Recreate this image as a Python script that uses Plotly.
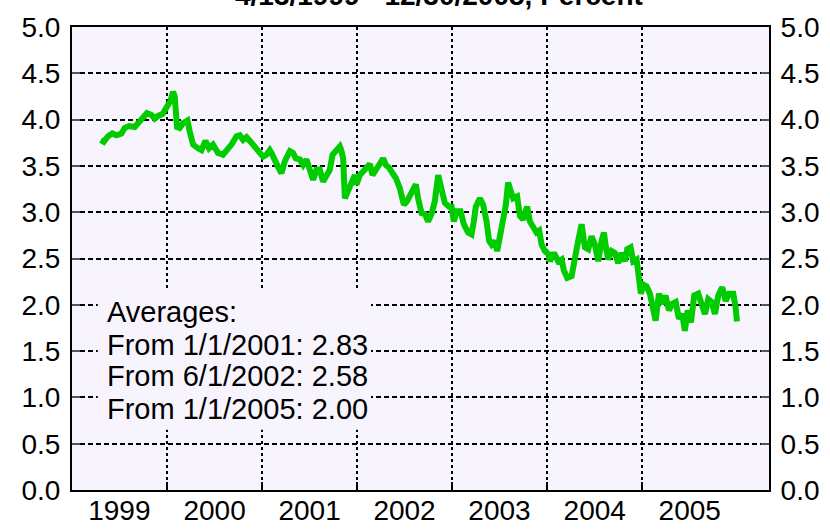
import plotly.graph_objects as go
from datetime import datetime, timedelta

obs_years = [
    1999.302, 1999.334, 1999.379, 1999.425, 1999.467, 1999.520, 1999.555, 1999.600,
    1999.660, 1999.713, 1999.765, 1999.789, 1999.836, 1999.871, 1999.905, 1999.952,
    2000.000, 2000.039, 2000.063, 2000.081, 2000.105, 2000.134, 2000.168, 2000.215,
    2000.239, 2000.274, 2000.326, 2000.362, 2000.404, 2000.442, 2000.484, 2000.537,
    2000.589, 2000.625, 2000.678, 2000.731, 2000.765, 2000.800, 2000.836, 2000.888,
    2000.941, 2000.976, 2001.011, 2001.046, 2001.081, 2001.099, 2001.134, 2001.168,
    2001.204, 2001.239, 2001.292, 2001.326, 2001.355, 2001.397, 2001.432, 2001.467,
    2001.502, 2001.537, 2001.573, 2001.607, 2001.642, 2001.678, 2001.713, 2001.741,
    2001.783, 2001.818, 2001.836, 2001.853, 2001.871, 2001.905, 2001.941, 2001.976,
    2001.994, 2002.028, 2002.063, 2002.099, 2002.134, 2002.162, 2002.204, 2002.239,
    2002.274, 2002.302, 2002.337, 2002.373, 2002.407, 2002.449, 2002.492, 2002.526,
    2002.573, 2002.618, 2002.642, 2002.678, 2002.713, 2002.747, 2002.783, 2002.818,
    2002.853, 2002.881, 2002.923, 2002.968, 2002.994, 2003.018, 2003.046, 2003.088,
    2003.123, 2003.168, 2003.204, 2003.228, 2003.249, 2003.292, 2003.326, 2003.362,
    2003.389, 2003.415, 2003.449, 2003.474, 2003.502, 2003.537, 2003.565, 2003.589,
    2003.615, 2003.642, 2003.684, 2003.713, 2003.747, 2003.789, 2003.818, 2003.853,
    2003.888, 2003.916, 2003.941, 2003.976, 2004.011, 2004.028, 2004.071, 2004.116,
    2004.152, 2004.176, 2004.211, 2004.257, 2004.292, 2004.326, 2004.362, 2004.397,
    2004.432, 2004.467, 2004.502, 2004.537, 2004.573, 2004.597, 2004.618, 2004.642,
    2004.678, 2004.713, 2004.747, 2004.783, 2004.818, 2004.842, 2004.878, 2004.905,
    2004.941, 2004.986, 2005.011, 2005.046, 2005.081, 2005.116, 2005.141, 2005.176,
    2005.211, 2005.246, 2005.281, 2005.316, 2005.352, 2005.386, 2005.421, 2005.449,
    2005.478, 2005.513, 2005.547, 2005.589, 2005.625, 2005.660, 2005.695, 2005.731,
    2005.765, 2005.800, 2005.842, 2005.878, 2005.913, 2005.958, 2005.983, 2005.997,
]

rate_pct = [
    3.78, 3.76, 3.82, 3.85, 3.83, 3.85, 3.91, 3.93,
    3.92, 3.98, 4.03, 4.07, 4.05, 4.01, 4.04, 4.06,
    4.14, 4.21, 4.30, 4.25, 3.92, 3.91, 3.96, 3.99,
    3.87, 3.73, 3.69, 3.67, 3.77, 3.69, 3.73, 3.64,
    3.62, 3.66, 3.73, 3.82, 3.83, 3.78, 3.81, 3.75,
    3.69, 3.66, 3.60, 3.62, 3.67, 3.64, 3.55, 3.49,
    3.42, 3.55, 3.66, 3.64, 3.58, 3.57, 3.51, 3.57,
    3.46, 3.35, 3.46, 3.46, 3.33, 3.41, 3.46, 3.62,
    3.67, 3.71, 3.66, 3.58, 3.15, 3.23, 3.33, 3.40,
    3.30, 3.40, 3.44, 3.49, 3.52, 3.40, 3.48, 3.53,
    3.58, 3.51, 3.48, 3.42, 3.37, 3.26, 3.08, 3.12,
    3.21, 3.30, 3.15, 2.99, 2.98, 2.90, 2.98, 3.12,
    3.40, 3.26, 3.10, 3.06, 3.06, 2.90, 3.01, 3.01,
    2.87, 2.78, 2.76, 2.90, 3.06, 3.15, 3.08, 2.90,
    2.69, 2.65, 2.69, 2.58, 2.72, 2.92, 3.08, 3.32,
    3.23, 3.15, 3.17, 2.96, 2.92, 3.06, 2.90, 2.83,
    2.78, 2.80, 2.65, 2.58, 2.55, 2.47, 2.56, 2.47,
    2.49, 2.37, 2.29, 2.31, 2.53, 2.69, 2.87, 2.62,
    2.60, 2.74, 2.65, 2.47, 2.69, 2.78, 2.62, 2.49,
    2.58, 2.56, 2.45, 2.56, 2.47, 2.60, 2.62, 2.47,
    2.49, 2.12, 2.22, 2.20, 2.12, 1.97, 1.83, 2.12,
    2.01, 2.10, 1.94, 2.01, 2.03, 1.85, 1.90, 1.72,
    1.94, 1.81, 2.10, 2.12, 1.99, 1.90, 2.06, 2.03,
    1.90, 2.10, 2.19, 2.04, 2.12, 2.12, 1.97, 1.82,
]

year_labels = ["1999", "2000", "2001", "2002", "2003", "2004", "2005"]
year_boundaries = ["2000-01-01", "2001-01-01", "2002-01-01", "2003-01-01",
                   "2004-01-01", "2005-01-01"]
y_ticks = [0.0, 0.5, 1.0, 1.5, 2.0, 2.5, 3.0, 3.5, 4.0, 4.5, 5.0]
note_lines = ["Averages:", "From 1/1/2001: 2.83", "From 6/1/2002: 2.58",
              "From 1/1/2005: 2.00"]
title_text = "4/13/1999 - 12/30/2005, Percent"


def to_date(t):
    return datetime(1999, 1, 1) + timedelta(days=(t - 1999) * 365.25)


dates = [to_date(t) for t in obs_years]
label_pos = [datetime(int(y), 7, 2) for y in year_labels]

FONT = "Liberation Sans, Arial, sans-serif"
BG = "#F8F4FE"

fig = go.Figure()
fig.add_trace(go.Scatter(x=dates, y=rate_pct, mode="lines",
                         line=dict(color="#00CC00", width=6),
                         showlegend=False, hoverinfo="skip"))
# invisible trace to activate the right-hand axis
fig.add_trace(go.Scatter(x=[dates[0]], y=[rate_pct[0]], yaxis="y2", mode="lines",
                         line=dict(width=0), showlegend=False, hoverinfo="skip"))

fig.update_layout(
    width=830, height=529,
    margin=dict(l=72, r=61, t=27, b=39, autoexpand=False),
    paper_bgcolor="white",
    plot_bgcolor=BG,
    font=dict(family=FONT, color="black", size=28),
    xaxis=dict(
        type="date", automargin=False,
        range=[datetime(1999, 1, 1), to_date(2006.334)],
        tickmode="array", tickvals=label_pos, ticktext=year_labels,
        ticks="", showgrid=False, zeroline=False,
        showline=True, linecolor="black", linewidth=2, mirror=True,
        tickfont=dict(size=28, family=FONT), ticklabelstandoff=-6,
        minor=dict(tickmode="array", tickvals=year_boundaries,
                   showgrid=True, gridcolor="black", gridwidth=2,
                   griddash="3px,3px", ticks="inside", ticklen=8,
                   tickcolor="black", tickwidth=2),
    ),
    yaxis=dict(
        range=[0, 5], tickmode="array", tickvals=y_ticks, tickformat=".1f",
        automargin=False,
        showgrid=True, gridcolor="black", gridwidth=2, griddash="5px,3px",
        zeroline=False, ticks="inside", ticklen=8, tickcolor="#555555", tickwidth=2,
        showline=True, linecolor="black", linewidth=2,
        tickfont=dict(size=28, family=FONT), ticklabelstandoff=4,
    ),
    yaxis2=dict(
        range=[0, 5], tickmode="array", tickvals=y_ticks, tickformat=".1f",
        automargin=False,
        overlaying="y", side="right", showgrid=False, zeroline=False,
        ticks="inside", ticklen=8, tickcolor="#555555", tickwidth=2,
        showline=True, linecolor="black", linewidth=2,
        tickfont=dict(size=28, family=FONT), ticklabelstandoff=4,
    ),
)

# background panel behind the averages note (hides the grid)
fig.add_shape(type="rect", xref="paper", yref="paper",
              x0=0.037, x1=0.429, y0=0.13, y1=0.432,
              fillcolor=BG, line=dict(width=0), layer="above")

note_y = [0.385, 0.313, 0.246, 0.176]
for txt, yy in zip(note_lines, note_y):
    fig.add_annotation(text=txt, xref="paper", yref="paper", x=0.047, y=yy,
                       xanchor="left", yanchor="middle", showarrow=False,
                       font=dict(size=29, family=FONT, color="black"))

fig.add_annotation(text="<b>" + title_text + "</b>", xref="paper", yref="paper",
                   x=0.5265, y=1, yanchor="middle", yshift=32, showarrow=False,
                   font=dict(size=28, family=FONT, color="black"))

fig.write_html("out.html",
               config={"displayModeBar": False},
               post_script="document.body.style.margin='0';"
                           "document.body.style.overflow='hidden';")
